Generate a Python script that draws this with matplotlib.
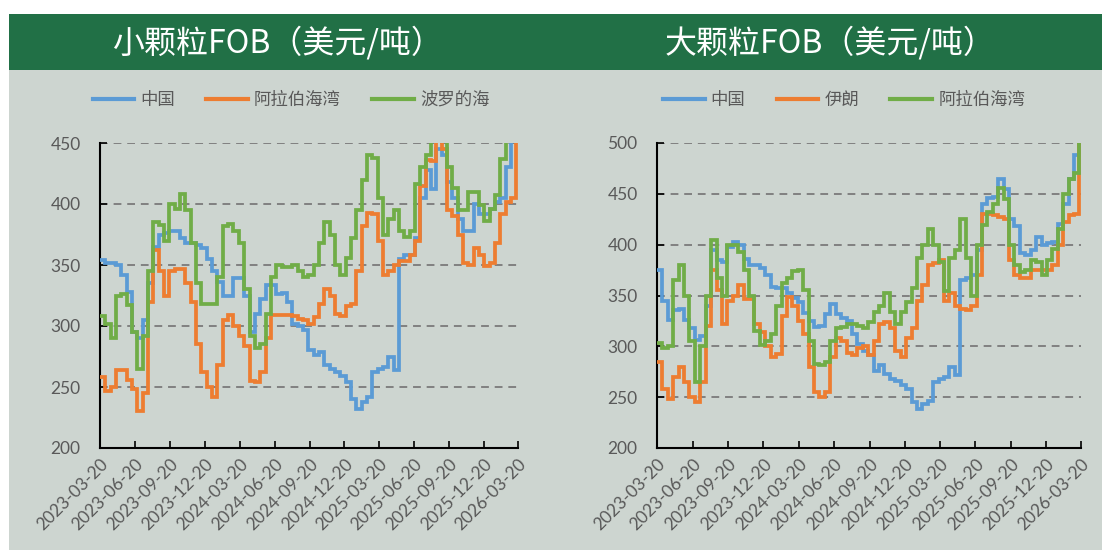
import numpy as np
import pandas as pd
import matplotlib
matplotlib.use("Agg")
import matplotlib.pyplot as plt
from matplotlib.patches import Rectangle

# ---------------- data ----------------
dates = pd.date_range("2023-03-20", periods=79, freq="14D")
tick_labels = ["2023-03-20", "2023-06-20", "2023-09-20", "2023-12-20",
               "2024-03-20", "2024-06-20", "2024-09-20", "2024-12-20",
               "2025-03-20", "2025-06-20", "2025-09-20", "2025-12-20",
               "2026-03-20"]

# 小颗粒FOB
small_china = [354, 352, 352, 350, 342, 328, 295, 290, 305, 335,
               365, 375, 376, 378, 378, 372, 368, 368, 366, 364,
               355, 345, 336, 325, 325, 339, 339, 325, 295, 310,
               322, 334, 334, 326, 327, 320, 302, 300, 297, 280,
               276, 279, 268, 265, 262, 259, 254, 240, 232, 238,
               242, 262, 265, 266, 275, 264, 355, 358, 358, 372,
               405, 428, 412, 445, 440, 418, 405, 388, 378, 378,
               400, 392, 392, 396, 402, 405, 430, 455, 470]
small_gulf = [258, 247, 250, 264, 264, 256, 248, 230, 245, 320,
              362, 345, 325, 345, 347, 347, 335, 320, 285, 262,
              250, 242, 268, 305, 309, 300, 292, 284, 255, 254,
              262, 290, 309, 309, 309, 309, 308, 306, 305, 302,
              307, 318, 330, 325, 310, 308, 316, 318, 345, 382,
              393, 392, 370, 342, 345, 350, 353, 353, 358, 370,
              415, 436, 435, 455, 445, 395, 390, 375, 352, 350,
              364, 358, 349, 352, 368, 392, 402, 405, 460]
small_baltic = [308, 302, 290, 325, 326, 317, 295, 265, 292, 345,
                385, 383, 370, 400, 396, 408, 395, 368, 335, 318,
                318, 318, 340, 382, 384, 378, 368, 330, 292, 282,
                285, 310, 340, 350, 348, 348, 350, 345, 340, 342,
                350, 368, 385, 375, 350, 342, 356, 372, 395, 420,
                440, 438, 405, 375, 388, 395, 378, 373, 378, 416,
                430, 440, 455, 460, 458, 430, 413, 395, 395, 410,
                410, 399, 386, 396, 407, 437, 455, 460, 465]

# 大颗粒FOB
large_china = [375, 345, 326, 336, 337, 326, 318, 306, 310, 340,
               395, 385, 383, 398, 403, 400, 386, 380, 380, 377,
               370, 358, 357, 357, 352, 348, 344, 333, 325, 319,
               320, 332, 342, 332, 328, 325, 312, 302, 295, 291,
               276, 282, 273, 268, 266, 262, 258, 245, 238, 243,
               246, 265, 268, 270, 280, 272, 365, 367, 370, 395,
               440, 446, 447, 465, 455, 425, 418, 392, 390, 395,
               408, 400, 402, 403, 420, 440, 465, 488, 505]
large_iran = [285, 258, 248, 270, 280, 265, 250, 245, 265, 320,
              375, 355, 322, 345, 350, 360, 347, 347, 322, 314,
              300, 290, 292, 330, 349, 340, 325, 312, 280, 255,
              250, 255, 290, 308, 305, 293, 291, 298, 300, 291,
              305, 322, 324, 318, 295, 290, 308, 318, 345, 360,
              380, 382, 385, 345, 352, 340, 337, 336, 340, 370,
              430, 430, 429, 427, 425, 385, 370, 367, 367, 375,
              375, 375, 375, 380, 400, 422, 429, 430, 505]
large_gulf = [303, 298, 300, 365, 380, 350, 305, 265, 300, 350,
              405, 367, 350, 400, 400, 393, 375, 350, 315, 301,
              305, 312, 340, 362, 367, 374, 375, 355, 305, 283,
              282, 285, 305, 318, 319, 322, 322, 320, 318, 324,
              334, 340, 352, 334, 322, 334, 344, 357, 387, 400,
              415, 400, 383, 354, 387, 395, 425, 387, 350, 400,
              419, 432, 440, 456, 445, 400, 380, 373, 375, 385,
              383, 370, 385, 396, 415, 450, 465, 470, 505]

panels = [
    dict(title="小颗粒FOB（美元/吨）",
         series=[("中国", small_china), ("阿拉伯海湾", small_gulf), ("波罗的海", small_baltic)],
         ylim=(200, 450), yticks=[200, 250, 300, 350, 400, 450]),
    dict(title="大颗粒FOB（美元/吨）",
         series=[("中国", large_china), ("伊朗", large_iran), ("阿拉伯海湾", large_gulf)],
         ylim=(200, 500), yticks=[200, 250, 300, 350, 400, 450, 500]),
]

# ---------------- style ----------------
W, H = 1102, 550
colors = ["#5B9BD5", "#ED7D31", "#70AD47"]
BG = "#CDD5D0"
HEADER = "#217046"
TXT = "#595959"
CJK = ["Noto Sans CJK SC", "DejaVu Sans"]
NUM = ["Lato", "DejaVu Sans"]

fig = plt.figure(figsize=(W / 100, H / 100), dpi=100)
fig.patch.set_facecolor("white")

def fx(px):
    return px / W

def fy(py):
    return 1 - py / H

# backgrounds (drawn beneath the axes)
fig.patches.append(Rectangle((fx(9), 0), 1 - fx(9), fy(70), transform=fig.transFigure,
                             facecolor=BG, edgecolor="none", zorder=-10))
fig.patches.append(Rectangle((fx(9), fy(70)), 1 - fx(9), fy(14) - fy(70),
                             transform=fig.transFigure, facecolor=HEADER,
                             edgecolor="none", zorder=-10))

axes_px = [(100, 518), (657, 1081)]
title_cx = [277, 830]
legend_cx = [291, 844]
top_px, bot_px = 143, 448

ticks = pd.to_datetime(tick_labels)

for k, p in enumerate(panels):
    x0, x1 = axes_px[k]
    ax = fig.add_axes([fx(x0), fy(bot_px), fx(x1 - x0), fy(top_px) - fy(bot_px)])
    ax.set_facecolor("none")
    ax.set_zorder(1)
    handles = []
    for (name, vals), c in zip(p["series"], colors):
        ln, = ax.plot(dates, vals, drawstyle="steps-post", color=c, lw=2.7,
                      solid_joinstyle="miter", label=name, zorder=3)
        handles.append(ln)
    ax.set_xlim(ticks[0], ticks[-1])
    ax.set_ylim(*p["ylim"])
    ax.set_yticks(p["yticks"])
    ax.set_xticks(ticks)
    ax.set_xticklabels(tick_labels, rotation=45, ha="right", rotation_mode="anchor",
                       family=NUM, fontsize=12.5, color=TXT)
    for lab in ax.get_yticklabels():
        lab.set_family(NUM)
        lab.set_fontsize(12.5)
        lab.set_color(TXT)
    ax.tick_params(axis="both", direction="in", length=5, width=1.2, color="black")
    ax.tick_params(axis="y", pad=14)
    ax.tick_params(axis="x", pad=6)
    for gv in p["yticks"][1:]:
        ax.axhline(gv, color="#808080", lw=1.4, ls=(0, (4, 3)), zorder=1)
    for s in ["top", "right"]:
        ax.spines[s].set_visible(False)
    for s in ["left", "bottom"]:
        ax.spines[s].set_linewidth(1.5)
        ax.spines[s].set_color("black")

    fig.text(fx(title_cx[k]), fy(43), p["title"], ha="center", va="center",
             color="white", fontsize=23, family=CJK)
    leg = fig.legend(handles=handles, labels=[h.get_label() for h in handles],
                     loc="center", bbox_to_anchor=(fx(legend_cx[k]), fy(100)),
                     ncol=3, frameon=False, handlelength=2.4, handletextpad=0.35,
                     columnspacing=1.8, prop={"family": CJK, "size": 12.5},
                     labelcolor=TXT)
    for h in leg.legend_handles:
        h.set_linewidth(3)

fig.savefig("out.png", dpi=100, facecolor=fig.get_facecolor())
